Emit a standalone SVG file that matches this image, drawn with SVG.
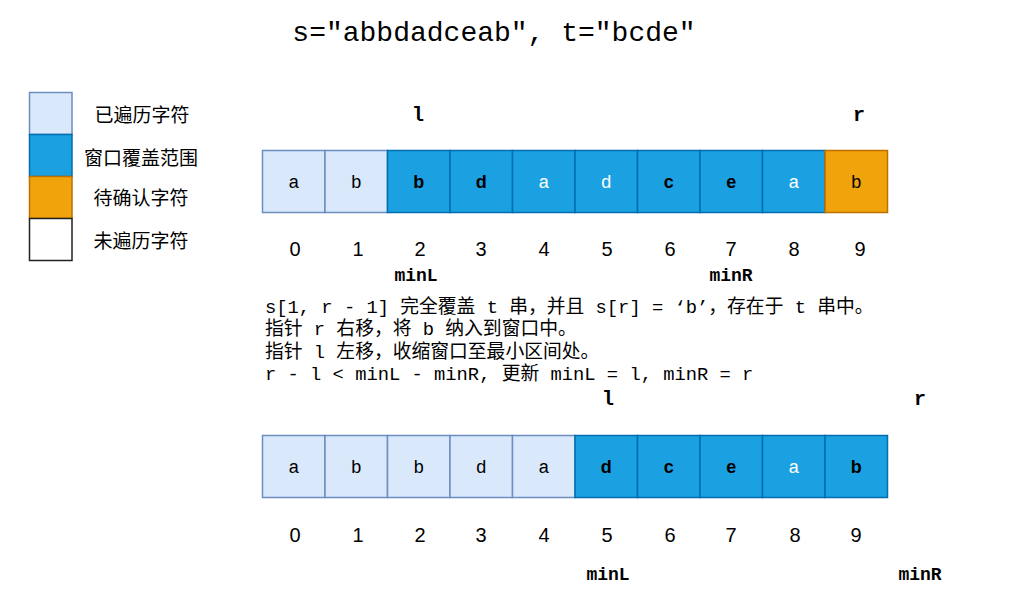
<svg xmlns="http://www.w3.org/2000/svg" width="1010" height="601" viewBox="0 0 1010 601">
<style>
.title{font-family:"Liberation Mono","Courier New",monospace;font-size:28px;fill:#000}
.leg{font-family:"Noto Sans CJK SC","Liberation Sans",sans-serif;font-size:19px;fill:#000;text-anchor:middle}
.v{fill:#dae8fc;stroke:#6c8ebf;stroke-width:1.5}
.w{fill:#1ba1e2;stroke:#006eaf;stroke-width:1.5}
.p{fill:#f0a30a;stroke:#bd7000;stroke-width:1.5}
.u{fill:#fff;stroke:#222;stroke-width:1.5}
.c{font-family:"Liberation Sans",Arial,sans-serif;font-size:18px;text-anchor:middle;fill:#000}
.cb{font-weight:bold}
.cw{fill:#fff}
.idx{font-family:"Liberation Sans",Arial,sans-serif;font-size:20px;text-anchor:middle;fill:#000}
.ptr{font-family:"Liberation Mono","Courier New",monospace;font-size:20px;font-weight:bold;text-anchor:middle;fill:#000}
.mn{font-family:"Liberation Mono","Courier New",monospace;font-size:18px;font-weight:bold;text-anchor:middle;fill:#000}
.desc{font-family:"Liberation Mono","Courier New","Noto Sans CJK SC",monospace;font-size:18.8px;fill:#000}
</style>
<text id="title" class="title" x="494" y="41" text-anchor="middle">s="abbdadceab", t="bcde"</text>
<g id="legend">
<g id="legend-visited"><rect class="v" x="29.5" y="92.5" width="42.5" height="42"/><text class="leg" x="142" y="122">已遍历字符</text></g>
<g id="legend-window"><rect class="w" x="29.5" y="134.5" width="42.5" height="42"/><text class="leg" x="141" y="165">窗口覆盖范围</text></g>
<g id="legend-pending"><rect class="p" x="29.5" y="176.5" width="42.5" height="42"/><text class="leg" x="141" y="205">待确认字符</text></g>
<g id="legend-unvisited"><rect class="u" x="29.5" y="218.5" width="42.5" height="42"/><text class="leg" x="141" y="248">未遍历字符</text></g>
</g>
<g id="row1">
<rect class="v" x="262.5" y="150.5" width="62.5" height="62"/>
<rect class="v" x="325" y="150.5" width="62.5" height="62"/>
<rect class="w" x="387.5" y="150.5" width="62.5" height="62"/>
<rect class="w" x="450" y="150.5" width="62.5" height="62"/>
<rect class="w" x="512.5" y="150.5" width="62.5" height="62"/>
<rect class="w" x="575" y="150.5" width="62.5" height="62"/>
<rect class="w" x="637.5" y="150.5" width="62.5" height="62"/>
<rect class="w" x="700" y="150.5" width="62.5" height="62"/>
<rect class="w" x="762.5" y="150.5" width="62.5" height="62"/>
<rect class="p" x="825" y="150.5" width="62.5" height="62"/>
<text class="c" x="293.8" y="188">a</text>
<text class="c" x="356.3" y="188">b</text>
<text class="c cb" x="418.8" y="188">b</text>
<text class="c cb" x="481.3" y="188">d</text>
<text class="c cw" x="543.8" y="188">a</text>
<text class="c cw" x="606.3" y="188">d</text>
<text class="c cb" x="668.8" y="188">c</text>
<text class="c cb" x="731.3" y="188">e</text>
<text class="c cw" x="793.8" y="188">a</text>
<text class="c" x="856.3" y="188">b</text>
<text class="idx" x="295" y="256">0</text>
<text class="idx" x="358" y="256">1</text>
<text class="idx" x="420" y="256">2</text>
<text class="idx" x="481" y="256">3</text>
<text class="idx" x="544" y="256">4</text>
<text class="idx" x="607" y="256">5</text>
<text class="idx" x="670" y="256">6</text>
<text class="idx" x="731" y="256">7</text>
<text class="idx" x="794" y="256">8</text>
<text class="idx" x="860" y="256">9</text>
<text class="ptr" x="418" y="121">l</text>
<text class="ptr" x="859" y="121">r</text>
<text class="mn" x="416" y="281">minL</text>
<text class="mn" x="731" y="281">minR</text>
</g>
<g id="description">
<text class="desc" x="265" y="313">s[1, r - 1] 完全覆盖 t 串，并且 s[r] = ‘b’，存在于 t 串中。</text>
<text class="desc" x="265" y="335">指针 r 右移，将 b 纳入到窗口中。</text>
<text class="desc" x="265" y="358">指针 l 左移，收缩窗口至最小区间处。</text>
<text class="desc" x="265" y="380">r - l &lt; minL - minR, 更新 minL = l, minR = r</text>
</g>
<g id="row2">
<rect class="v" x="262.5" y="435.5" width="62.5" height="62"/>
<rect class="v" x="325" y="435.5" width="62.5" height="62"/>
<rect class="v" x="387.5" y="435.5" width="62.5" height="62"/>
<rect class="v" x="450" y="435.5" width="62.5" height="62"/>
<rect class="v" x="512.5" y="435.5" width="62.5" height="62"/>
<rect class="w" x="575" y="435.5" width="62.5" height="62"/>
<rect class="w" x="637.5" y="435.5" width="62.5" height="62"/>
<rect class="w" x="700" y="435.5" width="62.5" height="62"/>
<rect class="w" x="762.5" y="435.5" width="62.5" height="62"/>
<rect class="w" x="825" y="435.5" width="62.5" height="62"/>
<text class="c" x="293.8" y="473">a</text>
<text class="c" x="356.3" y="473">b</text>
<text class="c" x="418.8" y="473">b</text>
<text class="c" x="481.3" y="473">d</text>
<text class="c" x="543.8" y="473">a</text>
<text class="c cb" x="606.3" y="473">d</text>
<text class="c cb" x="668.8" y="473">c</text>
<text class="c cb" x="731.3" y="473">e</text>
<text class="c cw" x="793.8" y="473">a</text>
<text class="c cb" x="856.3" y="473">b</text>
<text class="idx" x="295" y="542">0</text>
<text class="idx" x="358" y="542">1</text>
<text class="idx" x="420" y="542">2</text>
<text class="idx" x="481" y="542">3</text>
<text class="idx" x="544" y="542">4</text>
<text class="idx" x="607" y="542">5</text>
<text class="idx" x="670" y="542">6</text>
<text class="idx" x="731" y="542">7</text>
<text class="idx" x="795" y="542">8</text>
<text class="idx" x="856" y="542">9</text>
<text class="ptr" x="608" y="405">l</text>
<text class="ptr" x="920" y="405">r</text>
<text class="mn" x="608" y="580">minL</text>
<text class="mn" x="920" y="580">minR</text>
</g>
</svg>
